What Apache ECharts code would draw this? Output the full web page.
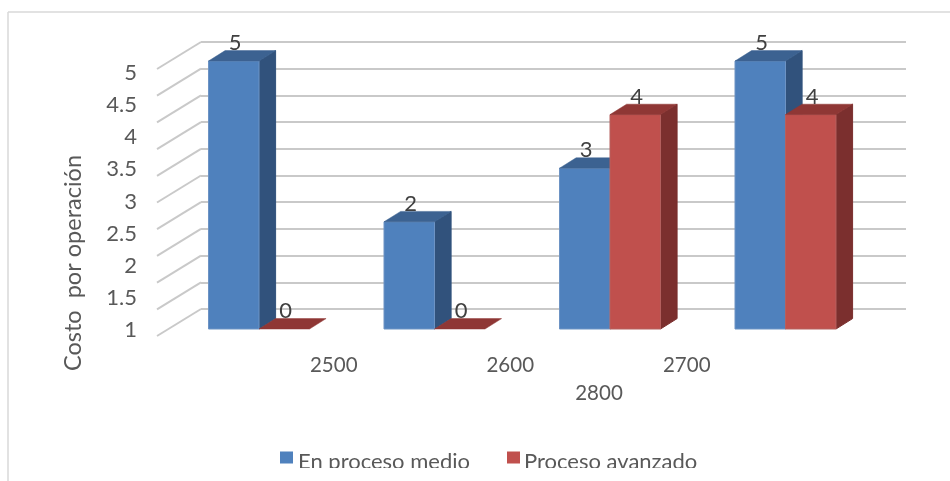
<!DOCTYPE html>
<html>
<head>
<meta charset="utf-8">
<style>html,body{margin:0;padding:0;background:#fff}#chart{width:950px;height:481px}</style>
<script src="https://cdn.jsdelivr.net/npm/echarts@6/dist/echarts.min.js"></script>
</head>
<body>
<div id="chart"></div>
<script>
// Costo por operación, two process stages per level
const categories = ['2500', '2600', '2700', '2800'];
const enProcesoMedio = [5, 2, 3, 5];
const procesoAvanzado = [0, 0, 4, 4];
const wallTicks = [0, 0.5, 1, 1.5, 2, 2.5, 3, 3.5, 4, 4.5, 5];

const FONT = 'Lato';
const TEXT = '#595959';
const GRIDLINE = '#c9c9c9';

// Extruded column: front face, lit top and shaded side, plus its value
function column(palette, side) {
  return function (params, api) {
    const cat = api.value(0), val = api.value(1);
    const base = api.coord([cat, 0]), top = api.coord([cat, val]);
    const w = api.size([1, 0])[0] * 0.2877;
    const x0 = base[0] + side * w, x1 = x0 + w;
    const dx = 16.6, dy = -10.4;
    const y0 = base[1], y1 = top[1];
    const children = [];
    if (val > 0) {
      children.push({
        type: 'polygon',
        shape: { points: [[x1, y0], [x1 + dx, y0 + dy], [x1 + dx, y1 + dy], [x1, y1]] },
        style: { fill: palette.side, stroke: palette.side, lineWidth: 1 }
      });
      children.push({
        type: 'rect',
        shape: { x: x0, y: y1, width: w, height: y0 - y1 },
        style: { fill: palette.front, stroke: palette.edge, lineWidth: 1 }
      });
    }
    children.push({
      type: 'polygon',
      shape: { points: [[x0, y1], [x0 + dx, y1 + dy], [x1 + dx, y1 + dy], [x1, y1]] },
      style: { fill: palette.top, stroke: palette.top, lineWidth: 0.5 }
    });
    children.push({
      type: 'text',
      style: {
        text: String(val), x: (x0 + x1) / 2 + 1.5, y: y1 - 18,
        align: 'center', verticalAlign: 'middle',
        font: '22px ' + FONT, fill: '#404040'
      }
    });
    return { type: 'group', children };
  };
}

const blue = { front: '#4f81bd', side: '#31527c', top: '#3c6291', edge: '#6d93c4' };
const red = { front: '#c0504d', side: '#7b2f2e', top: '#8f3735', edge: '#b5605e' };

const hiddenCat = { type: 'category', show: false };
const hiddenVal = { type: 'value', show: false, splitLine: { show: false } };
const bareAxis = { axisLine: { show: false }, axisTick: { show: false } };
const tickLabel = { color: TEXT, fontFamily: FONT, fontSize: 22 };
const levelLabel = { color: TEXT, fontFamily: FONT, fontSize: 20.5, interval: 0, margin: 5 };

const option = {
  animation: false,
  backgroundColor: '#ffffff',
  grid: [
    { left: 171.25, width: 702, top: 61, height: 268 },   // column plane
    { left: 201, width: 705, top: 42, height: 267 },      // back wall
    { left: 145, width: 10, top: 73, height: 257 },       // value tick labels
    { left: 245.5, width: 529.5, top: 349, height: 1 },   // first row of level labels
    { left: 511, width: 176, top: 377, height: 1 }        // second row of level labels
  ],
  xAxis: [
    { ...hiddenCat, gridIndex: 0, data: categories },
    { type: 'value', show: false, gridIndex: 1, min: 0, max: 1, splitLine: { show: false } },
    { ...hiddenCat, gridIndex: 2, data: [''] },
    { type: 'category', gridIndex: 3, data: categories.slice(0, 3), ...bareAxis, axisLabel: levelLabel },
    { type: 'category', gridIndex: 4, data: categories.slice(3), ...bareAxis, axisLabel: levelLabel }
  ],
  yAxis: [
    { ...hiddenVal, gridIndex: 0, min: 0, max: 5 },
    { type: 'value', gridIndex: 1, min: 0, max: 5, interval: 0.5, ...bareAxis,
      axisLabel: { show: false },
      splitLine: { show: true, lineStyle: { color: GRIDLINE, width: 2 } } },
    { type: 'value', gridIndex: 2, min: 1, max: 5, interval: 0.5, ...bareAxis,
      splitLine: { show: false },
      axisLabel: { ...tickLabel, margin: 8 } },
    { ...hiddenVal, gridIndex: 3 },
    { ...hiddenVal, gridIndex: 4 }
  ],
  legend: {
    // names sit lower than their swatches, so the swatches are placed on their own below
    left: 275, top: 446, itemWidth: 13, itemHeight: 12, itemGap: 36,
    icon: 'rect',
    selectedMode: false,
    itemStyle: { color: 'transparent', borderWidth: 0 },
    data: ['En proceso medio', 'Proceso avanzado'],
    textStyle: { color: TEXT, fontFamily: FONT, fontSize: 22 }
  },
  series: [
    {
      // side wall gridlines running from the wall towards the viewer
      type: 'custom', xAxisIndex: 1, yAxisIndex: 1, clip: false, silent: true, z: 1,
      data: wallTicks.map(v => [0, v]),
      renderItem(params, api) {
        const p = api.coord([api.value(0), api.value(1)]);
        return {
          type: 'line',
          shape: { x1: p[0], y1: p[1], x2: p[0] - 44, y2: p[1] + 27 },
          style: { stroke: GRIDLINE, lineWidth: 2 }
        };
      }
    },
    {
      name: 'En proceso medio', type: 'custom', xAxisIndex: 0, yAxisIndex: 0,
      clip: false, silent: true, z: 3,
      itemStyle: { color: blue.front },
      data: enProcesoMedio.map((v, i) => [i, v]),
      renderItem: column(blue, -1)
    },
    {
      name: 'Proceso avanzado', type: 'custom', xAxisIndex: 0, yAxisIndex: 0,
      clip: false, silent: true, z: 4,
      itemStyle: { color: red.front },
      data: procesoAvanzado.map((v, i) => [i, v]),
      renderItem: column(red, 0)
    }
  ],
  graphic: [
    // chart frame, open at the right and bottom
    { type: 'line', silent: true, z: 101, shape: { x1: 8, y1: 12, x2: 950, y2: 12 },
      style: { stroke: '#d9d9d9', lineWidth: 1.5 } },
    { type: 'line', silent: true, z: 101, shape: { x1: 8, y1: 12, x2: 8, y2: 481 },
      style: { stroke: '#d9d9d9', lineWidth: 1.5 } },
    // the frame's lower strip sits over the legend's descenders
    { type: 'rect', silent: true, z: 100, shape: { x: 10, y: 468, width: 940, height: 13 },
      style: { fill: '#ffffff' } },
    // legend swatches
    { type: 'rect', silent: true, z: 102, shape: { x: 280, y: 451.5, width: 13, height: 12 },
      style: { fill: blue.front } },
    { type: 'rect', silent: true, z: 102, shape: { x: 507, y: 451.5, width: 13, height: 12 },
      style: { fill: red.front } },
    // value axis title
    { type: 'text', silent: true, z: 5, x: 73, y: 263, rotation: Math.PI / 2,
      style: { text: 'Costo  por operación', align: 'center', verticalAlign: 'middle',
        font: '23.5px ' + FONT, fill: TEXT } }
  ]
};

echarts.init(document.getElementById('chart')).setOption(option);
</script>
</body>
</html>
